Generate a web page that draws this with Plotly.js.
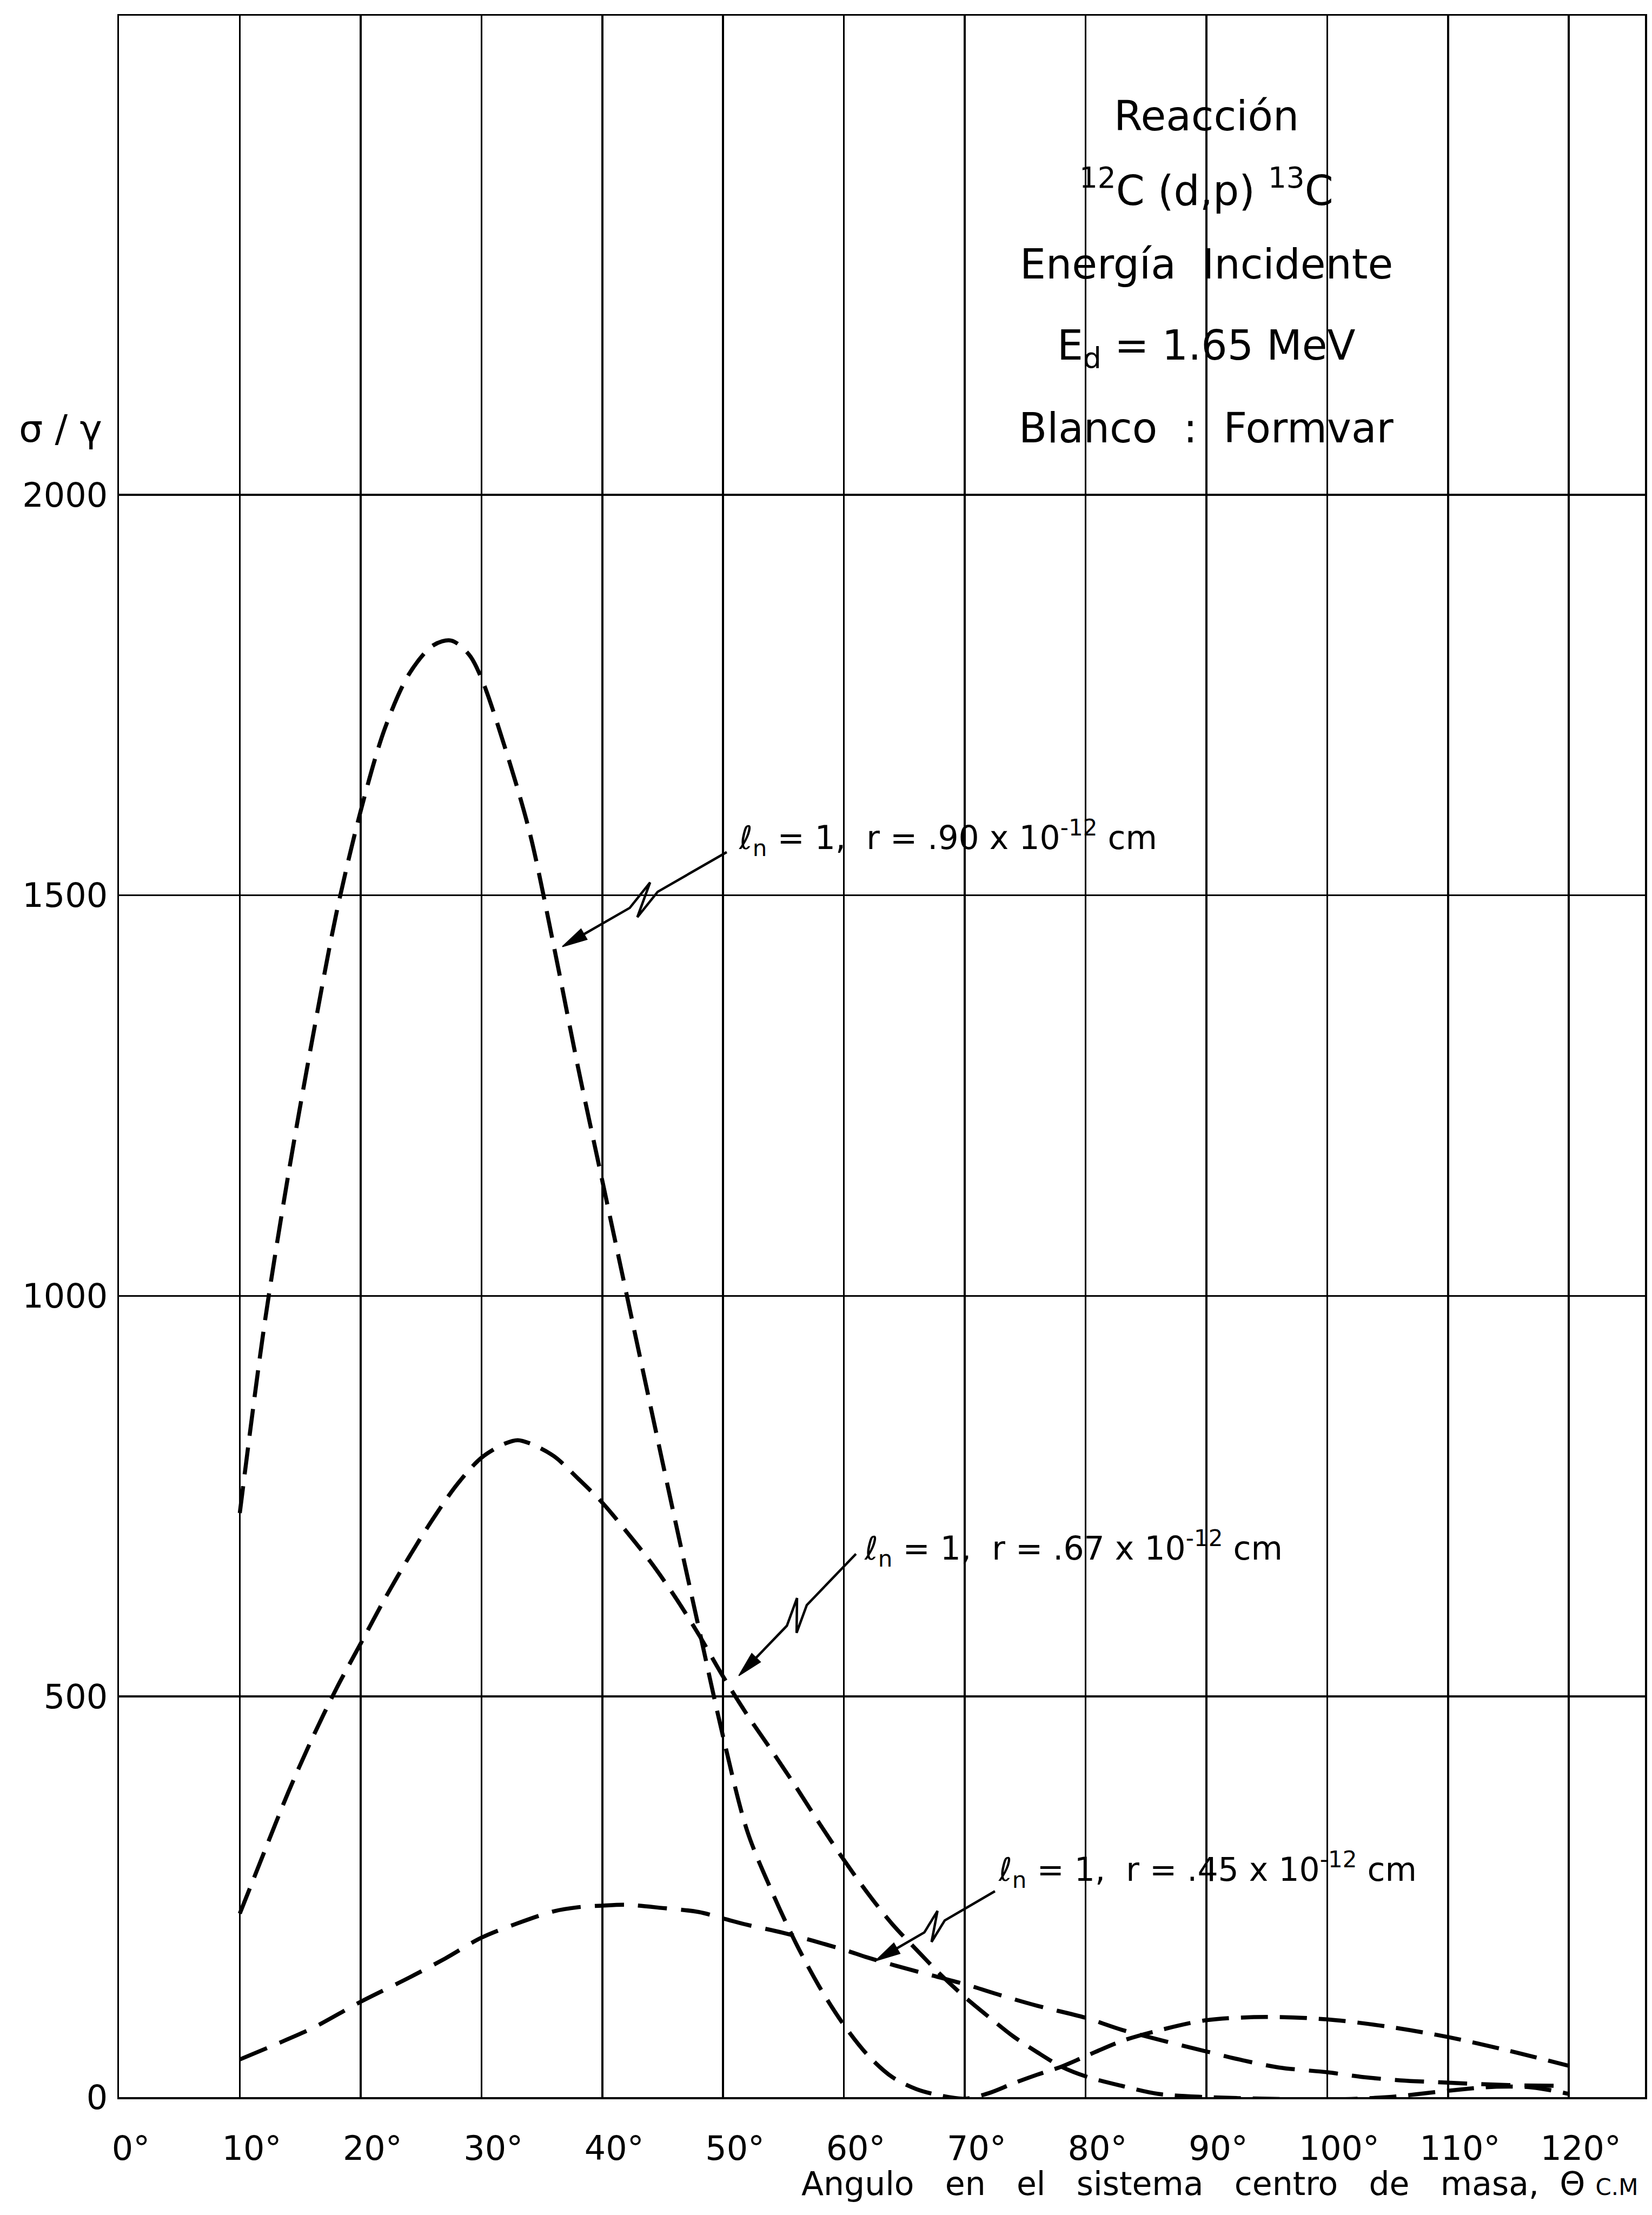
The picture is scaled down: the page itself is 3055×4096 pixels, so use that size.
<!DOCTYPE html>
<html>
<head>
<meta charset="utf-8">
<script src="https://cdn.plot.ly/plotly-3.0.1.min.js"></script>
<style>
html,body{margin:0;padding:0;background:#ffffff;}
#chart{width:3055px;height:4096px;}
</style>
</head>
<body>
<div id="chart"></div>
<script>
// ---- data ----
const angleTicks = [0,10,20,30,40,50,60,70,80,90,100,110,120];
const sigmaTicks = [0,500,1000,1500,2000];

// l_n = 1, r = .90e-12 cm
const angA = [10,12,14,16,18,20,22,24,26,27.5,29,30,32,34,36,38,40,42,44,46,48,50,52,54,56,58,60,62,64,66,68,70,72,74,76,78,80,83,86,90,95,100,105,110,115,120];
const sigA = [729,960,1150,1320,1478,1605,1708,1776,1812,1818,1800,1771,1682,1578,1436,1285,1144,1003,862,722,585,450,332,258,193,137,90,52,25,10,2,-2,5,17,28,38,51,70,83,96,100,97,88,75,58,39];

// l_n = 1, r = .67e-12 cm
const angB = [10,12,14,16,18,20,22,24,26,28,30,32,33,34,36,38,40,42,44,46,48,50,52,54,56,58,60,62,64,66,68,70,72,74,76,78,80,83,86,90,95,100,105,110,114,117,120];
const sigB = [229,305,380,448,510,566,622,674,722,765,798,816,820,816,800,772,742,706,668,625,577,525,477,433,388,341,296,254,216,184,153,125,100,76,56,38,26,14,4,0,-2,-3,0,8,13,12,4];

// l_n = 1, r = .45e-12 cm
const angC = [10,13,16,20,24,27,30,33,36,38,40,42,45,48,50,52,55,60,62,66,70,73,76,80,83,86,90,93,96,100,103,106,110,115,120];
const sigC = [47,66,86,119,149,173,199,217,232,237,239,240,236,231,223,215,205,184,174,157,141,127,114,99,84,72,57,46,37,31,25,21,18,15,14];

const seriesNames = ['r = .90 x 10^-12 cm','r = .67 x 10^-12 cm','r = .45 x 10^-12 cm'];
const curveLabels = [
  'ℓ<sub>n</sub> = 1,  r = .90 x 10<sup>-12</sup> cm',
  'ℓ<sub>n</sub> = 1,  r = .67 x 10<sup>-12</sup> cm',
  'ℓ<sub>n</sub> = 1,  r = .45 x 10<sup>-12</sup> cm'
];
const infoLines = ['Reacción','<sup>12</sup>C (d,p) <sup>13</sup>C','Energía  Incidente','E<sub>d</sub> = 1.65 MeV','Blanco  :  Formvar'];
const xTitle = 'Angulo   en   el   sistema   centro   de   masa,  Θ <span style="font-size:42px">C.M</span>';
const yTitle = 'σ / γ';

// ---- layout geometry ----
const W = 3055, H = 4096;
const M = {l:220, r:13, t:29, b:218};
const XR = [0, 126.3], YR = [0, 2598];
const plotW = W - M.l - M.r, plotH = H - M.t - M.b;
const pxX = plotW / (XR[1] - XR[0]);
const pxY = plotH / (YR[1] - YR[0]);
const FONT = 'DejaVu Sans';

// label / arrow placement (data coordinates)
const labelPos = [[51.2, 1572], [61.6, 685], [72.7, 284]];
const arrowTip = [[36.7, 1436], [51.3, 526], [62.6, 170]];
const arrowTail = [[50.3, 1554], [61.0, 678], [72.5, 257]];
const infoX = 90;
const infoY = [2473, 2383, 2288, 2183, 2083];

function pathFrom(local, ux, uy){
  const nx = -uy, ny = ux;
  return 'M' + local.map(([s,q]) => (s*ux + q*nx).toFixed(1) + ',' + (s*uy + q*ny).toFixed(1)).join(' L');
}
function arrowShapes(tip, tail){
  const dx = (tail[0]-tip[0])*pxX, dy = (tail[1]-tip[1])*pxY;
  const L = Math.hypot(dx, dy), ux = dx/L, uy = dy/L;
  const h = 22;
  const base = {type:'path', xref:'x', yref:'y', xsizemode:'pixel', ysizemode:'pixel',
                xanchor: tip[0], yanchor: tip[1]};
  const shaft = Object.assign({}, base, {
    path: pathFrom([[L,0],[0.58*L,0],[0.42*L,-h],[0.57*L,h],[0.41*L,0],[20,0]], ux, uy),
    line: {color:'#000', width:4.5}
  });
  const head = Object.assign({}, base, {
    path: pathFrom([[0,0],[46,11],[46,-11],[0,0]], ux, uy) + ' Z',
    line: {color:'#000', width:2}, fillcolor:'#000'
  });
  return [shaft, head];
}

const dashStyles = ['50px,22px','50px,22px','54px,26px'];
const xs = [angA, angB, angC], ys = [sigA, sigB, sigC];
const traces = xs.map((x, i) => ({
  type:'scatter', mode:'lines', x: x, y: ys[i], name: seriesNames[i],
  line: {color:'#000', width:7.5, dash: dashStyles[i], shape:'spline', smoothing:0.9},
  hoverinfo:'skip'
}));

const annotations = [];
let shapes = [];
infoLines.forEach((t, i) => annotations.push({
  x: infoX, y: infoY[i], xref:'x', yref:'y', text: t, showarrow:false,
  xanchor:'center', yanchor:'middle', font:{family:FONT, size:76, color:'#000'}
}));
curveLabels.forEach((t, i) => {
  annotations.push({x: labelPos[i][0], y: labelPos[i][1], xref:'x', yref:'y', text: t,
    showarrow:false, xanchor:'left', yanchor:'middle',
    font:{family:FONT, size:60, color:'#000'}});
  shapes = shapes.concat(arrowShapes(arrowTip[i], arrowTail[i]));
});
annotations.push({x: 0.996, y: -0.0416, xref:'paper', yref:'paper', text: xTitle, showarrow:false,
  xanchor:'right', yanchor:'middle', font:{family:FONT, size:60, color:'#000'}});
annotations.push({x: -0.0383, y: 0.8015, xref:'paper', yref:'paper', text: yTitle, showarrow:false,
  xanchor:'center', yanchor:'middle', font:{family:FONT, size:70, color:'#000'}});

const layout = {
  width: W, height: H,
  margin: M,
  paper_bgcolor:'#fff', plot_bgcolor:'#fff',
  showlegend:false,
  font:{family:FONT, color:'#000'},
  xaxis: {
    range: XR, tickmode:'array', tickvals: angleTicks, ticktext: angleTicks.map(v => v + '°'),
    showgrid:true, gridcolor:'#000', gridwidth:3.5, zeroline:false,
    showline:true, mirror:true, linecolor:'#000', linewidth:3.5,
    ticks:'', tickfont:{family:FONT, size:62, color:'#000'},
    ticklabelshift: 22, ticklabelstandoff: 38, fixedrange:true
  },
  yaxis: {
    range: YR, tickmode:'array', tickvals: sigmaTicks,
    showgrid:true, gridcolor:'#000', gridwidth:3.5, zeroline:false,
    showline:true, mirror:true, linecolor:'#000', linewidth:3.5,
    ticks:'', tickfont:{family:FONT, size:62, color:'#000'},
    ticklabelstandoff: 5, fixedrange:true
  },
  annotations: annotations,
  shapes: shapes
};

Plotly.newPlot('chart', traces, layout, {staticPlot:true, displayModeBar:false});
</script>
</body>
</html>
